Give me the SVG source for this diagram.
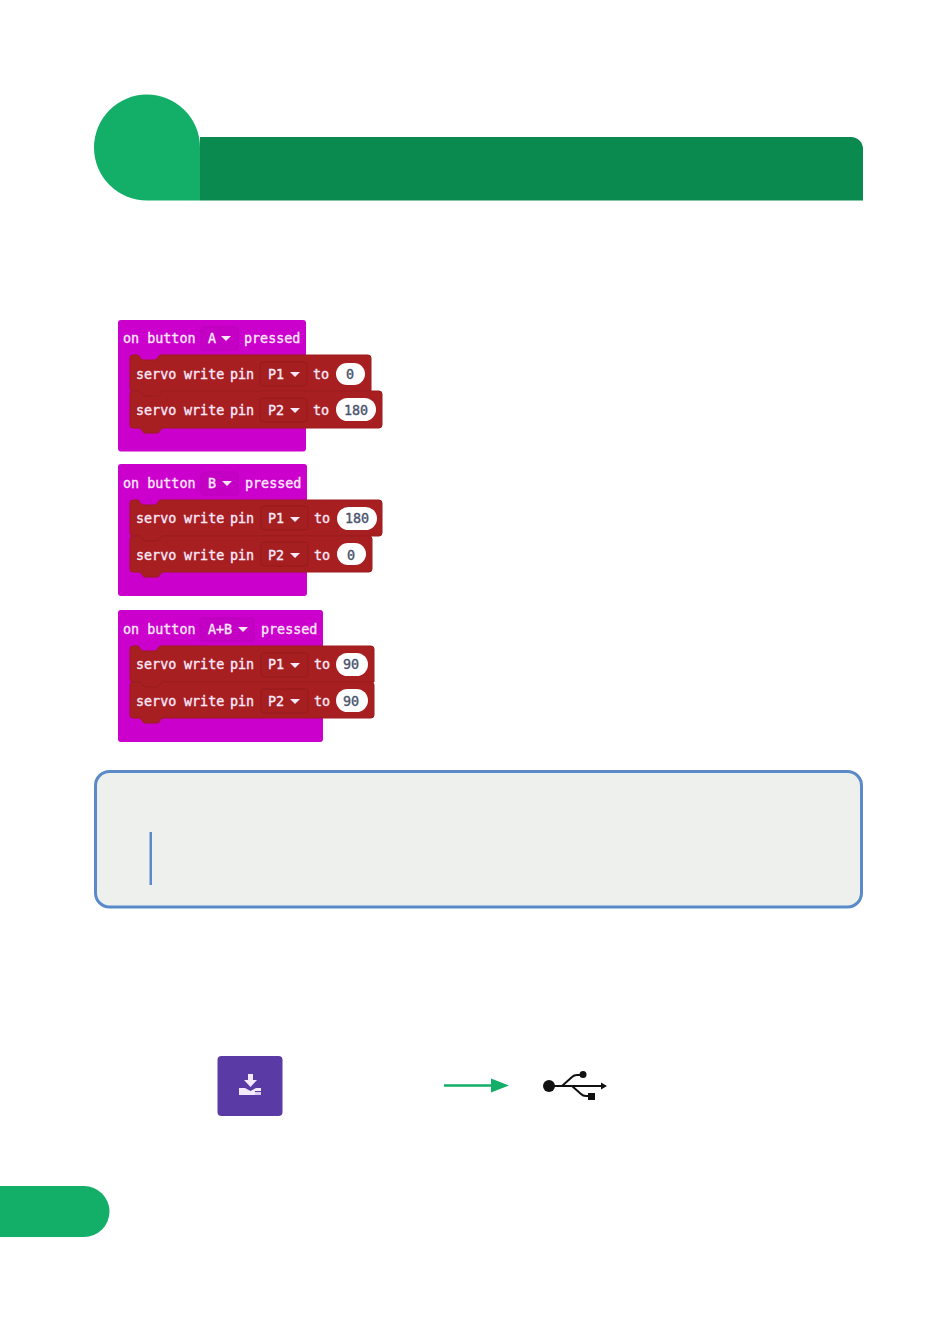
<svg xmlns="http://www.w3.org/2000/svg" width="950" height="1318" viewBox="0 0 950 1318">
<style>
text{font-family:"DejaVu Sans Mono","Liberation Mono",monospace;font-size:13.400px;font-weight:normal;stroke-width:.35px}
.w{fill:#fbe9fb;stroke:#fbe9fb}
.v{fill:#47536b;stroke:#47536b;text-anchor:middle}
.hat{fill:#cc00cc}
.red{fill:#a81f21;stroke:#9c1c1e;stroke-width:1}
.dh{fill:#c500c5;stroke:#b800b8}
.dr{fill:#a51e20;stroke:#941b1d}
.pill{fill:#fff}
.tri{fill:#fbe9fb}
</style>
<defs>
<path id="tri" d="M0 0h10l-5 5Z"/>
</defs>
<g id="header">
<path d="M200 137H851a12 12 0 0 1 12 12V200.500H200Z" fill="#0b8a50"/>
<path d="M200 147V200.500H147A53 53 0 1 1 200 147Z" fill="#13ae67"/>
</g>
<g id="block-a">
<rect class="hat" x="118" y="320" width="188" height="131.500" rx="3"/>
<rect class="dh" x="201" y="327" width="37" height="23" rx="3"/>
<text class="w" x="123" y="342.500">on button</text><text class="w" x="208" y="342.500">A</text><use href="#tri" class="tri" x="221" y="336"/><text class="w" x="244" y="342.500">pressed</text>
<path class="red" d="M130 358a3 3 0 0 1 3-3h5l4 5h14l4-5H368a3 3 0 0 1 3 3V392H162l-4 5h-14l-4-5H133a3 3 0 0 1-3-3Z"/>
<rect class="dr" x="260" y="362" width="47" height="24" rx="3"/>
<text class="w" x="136" y="378.500">servo</text><text class="w" x="184" y="378.500">write</text><text class="w" x="230" y="378.500">pin</text><text class="w" x="268" y="378.500">P1</text><use href="#tri" class="tri" x="290" y="372"/><text class="w" x="313" y="378.500">to</text>
<rect class="pill" x="336" y="363" width="29" height="22" rx="11"/><text class="v" x="350" y="378.500">0</text>
<path class="red" d="M130 394a3 3 0 0 1 3-3h7l4 5h14l4-5H379a3 3 0 0 1 3 3V425a3 3 0 0 1-3 3H162l-4 5h-14l-4-5H133a3 3 0 0 1-3-3Z"/>
<rect class="dr" x="260" y="398" width="47" height="24" rx="3"/>
<text class="w" x="136" y="414.500">servo</text><text class="w" x="184" y="414.500">write</text><text class="w" x="230" y="414.500">pin</text><text class="w" x="268" y="414.500">P2</text><use href="#tri" class="tri" x="290" y="408"/><text class="w" x="313" y="414.500">to</text>
<rect class="pill" x="336" y="398" width="40" height="23" rx="11.500"/><text class="v" x="356" y="414.500">180</text>
</g>
<g id="block-b">
<rect class="hat" x="118" y="464" width="189" height="132" rx="3"/>
<rect class="dh" x="201" y="472" width="37" height="23" rx="3"/>
<text class="w" x="123" y="487.500">on button</text><text class="w" x="208" y="487.500">B</text><use href="#tri" class="tri" x="222" y="481"/><text class="w" x="245" y="487.500">pressed</text>
<path class="red" d="M130 503a3 3 0 0 1 3-3h5l4 5h14l4-5H379a3 3 0 0 1 3 3V533a3 3 0 0 1-3 3H162l-4 5h-14l-4-5H133a3 3 0 0 1-3-3Z"/>
<rect class="dr" x="261" y="506" width="47" height="24" rx="3"/>
<text class="w" x="136" y="523">servo</text><text class="w" x="184" y="523">write</text><text class="w" x="230" y="523">pin</text><text class="w" x="268" y="523">P1</text><use href="#tri" class="tri" x="290" y="517"/><text class="w" x="314" y="523">to</text>
<rect class="pill" x="337" y="507" width="40" height="23" rx="11.500"/><text class="v" x="357" y="523">180</text>
<path class="red" d="M130 539a3 3 0 0 1 3-3h7l4 5h14l4-5H369a3 3 0 0 1 3 3V569a3 3 0 0 1-3 3H162l-4 5h-14l-4-5H133a3 3 0 0 1-3-3Z"/>
<rect class="dr" x="261" y="542" width="47" height="24" rx="3"/>
<text class="w" x="136" y="559.500">servo</text><text class="w" x="184" y="559.500">write</text><text class="w" x="230" y="559.500">pin</text><text class="w" x="268" y="559.500">P2</text><use href="#tri" class="tri" x="290" y="553"/><text class="w" x="314" y="559.500">to</text>
<rect class="pill" x="337" y="543" width="29" height="22" rx="11"/><text class="v" x="351" y="559.500">0</text>
</g>
<g id="block-c">
<rect class="hat" x="118" y="610" width="205" height="132" rx="3"/>
<rect class="dh" x="200" y="618" width="54" height="23" rx="3"/>
<text class="w" x="123" y="633.500">on button</text><text class="w" x="208" y="633.500">A+B</text><use href="#tri" class="tri" x="238" y="627"/><text class="w" x="261" y="633.500">pressed</text>
<path class="red" d="M130 649a3 3 0 0 1 3-3h5l4 5h14l4-5H371a3 3 0 0 1 3 3V682H162l-4 5h-14l-4-5H133a3 3 0 0 1-3-3Z"/>
<rect class="dr" x="261" y="653" width="47" height="24" rx="3"/>
<text class="w" x="136" y="669">servo</text><text class="w" x="184" y="669">write</text><text class="w" x="230" y="669">pin</text><text class="w" x="268" y="669">P1</text><use href="#tri" class="tri" x="290" y="663"/><text class="w" x="314" y="669">to</text>
<rect class="pill" x="336" y="653" width="32" height="23" rx="11.500"/><text class="v" x="351" y="669">90</text>
<path class="red" d="M130 685a3 3 0 0 1 3-3h7l4 5h14l4-5H371a3 3 0 0 1 3 3V715a3 3 0 0 1-3 3H162l-4 5h-14l-4-5H133a3 3 0 0 1-3-3Z"/>
<rect class="dr" x="261" y="689" width="47" height="24" rx="3"/>
<text class="w" x="136" y="705.500">servo</text><text class="w" x="184" y="705.500">write</text><text class="w" x="230" y="705.500">pin</text><text class="w" x="268" y="705.500">P2</text><use href="#tri" class="tri" x="290" y="699"/><text class="w" x="314" y="705.500">to</text>
<rect class="pill" x="336" y="689" width="32" height="23" rx="11.500"/><text class="v" x="351" y="705.500">90</text>
</g>
<g id="note">
<rect x="95.500" y="771.500" width="766" height="135.500" rx="14" fill="#eef0ee" stroke="#5b8ac9" stroke-width="3"/>
<rect x="149.500" y="832" width="2.500" height="53" fill="#5b8ac9"/>
</g>
<g id="download">
<rect x="217.500" y="1056" width="65" height="60" rx="4" fill="#5a3aa5"/>
<path d="M248 1074h5v6h4l-6.500 7-6.500-7h4Z" fill="#f3e9fb"/>
<path d="M239 1088h6l5.500 3 5.500-3h5v3h-6v4h-16Z" fill="#f3e9fb"/>
<rect x="255" y="1092" width="6" height="3" fill="#d9cdf0"/>
</g>
<g id="connectors">
<path d="M444 1085.500H494" stroke="#13ae67" stroke-width="2.500" fill="none"/>
<path d="M491 1078.500L509 1085.500L491 1092.500Z" fill="#13ae67"/>
</g>
<g id="usb">
<circle cx="549" cy="1086" r="6" fill="#111"/>
<path d="M552 1086H602M562 1086L572 1077Q574 1075 577 1075H582M572 1086L581 1094Q583 1096 586 1096H590" stroke="#111" stroke-width="2" fill="none"/>
<circle cx="583" cy="1074.500" r="3.500" fill="#111"/>
<rect x="588" y="1093" width="7" height="7" fill="#111"/>
<path d="M601 1082.500L607 1086L601 1089.500Z" fill="#111"/>
</g>
<path id="page-tab" d="M0 1186H84a25.500 25.500 0 0 1 0 51H0Z" fill="#13ae67"/>
</svg>
